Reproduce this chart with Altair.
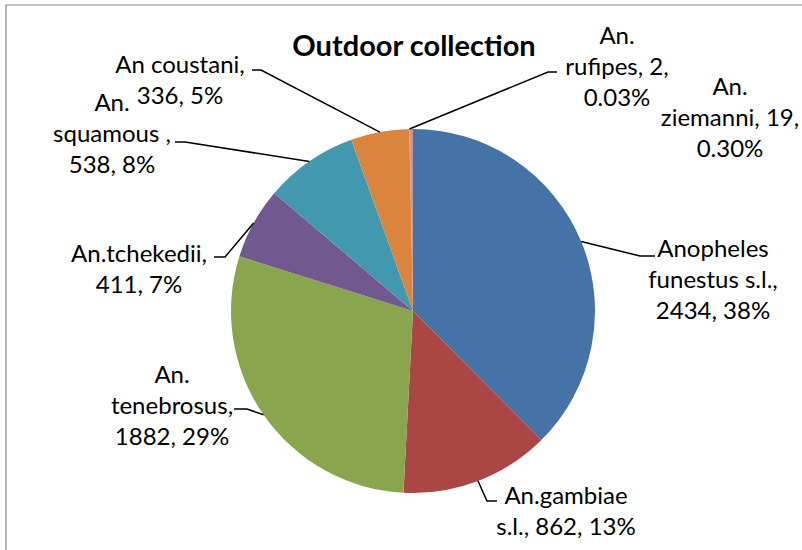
import math
import altair as alt
import pandas as pd

# ---------------- data ----------------
species = ["Anopheles funestus s.l.", "An.gambiae s.l.", "An. tenebrosus", "An.tchekedii",
           "An. squamous", "An coustani", "An. rufipes", "An. ziemanni"]
counts = [2434, 862, 1882, 411, 538, 336, 2, 19]
label_text = [
    "Anopheles\nfunestus s.l.,\n2434, 38%",
    "An.gambiae\ns.l., 862, 13%",
    "An.\ntenebrosus,\n1882, 29%",
    "An.tchekedii,\n411, 7%",
    "An.\nsquamous ,\n538, 8%",
    "An coustani,\n336, 5%",
    "An.\nrufipes, 2,\n0.03%",
    "An.\nziemanni, 19,\n0.30%",
]
colors = ["#4572A7", "#AA4643", "#89A54E", "#71588F", "#4198AF", "#DB843D", "#93A9CF", "#D19392"]

# ---------------- layout (annotation placement) ----------------
CX, CY, R = 413, 311, 182
# centre x and first-line y of each label block
label_xy = [(713, 250), (566, 497), (172, 376), (139, 255), (112, 104), (180, 66), (617, 37), (730, 88)]
leader_pts = [
    [(640, 256), (655, 256)],
    [(487, 501), (497, 501)],
    [(247, 409), (234, 409)],
    [(225, 257), (214, 257)],
    [(185, 142), (175, 142)],
    [(261, 70), (252, 70)],
    [(548, 72), (557, 72)],
    None,
]

FONT = "Lato"

pie_df = pd.DataFrame({"species": species, "count": counts, "idx": list(range(len(species)))})

# leader lines start on the pie edge at each slice's mid-angle
total = sum(counts)
rows = []
cum = 0
for i, c in enumerate(counts):
    mid = (cum + c / 2) / total * 2 * math.pi
    cum += c
    if leader_pts[i] is None:
        continue
    sx = CX + R * math.sin(mid)
    sy = CY - R * math.cos(mid)
    pts = [(sx, sy)] + leader_pts[i]
    for k, (px, py) in enumerate(pts):
        rows.append({"species": species[i], "k": k, "px": px, "py": py})
lead_df = pd.DataFrame(rows)

lab_df = pd.DataFrame({
    "species": species,
    "text": label_text,
    "px": [p[0] for p in label_xy],
    "py": [p[1] for p in label_xy],
})

pie = alt.Chart(pie_df).mark_arc(outerRadius=R).encode(
    theta=alt.Theta("count:Q", stack=True),
    color=alt.Color("species:N", scale=alt.Scale(domain=species, range=colors), legend=None),
    order=alt.Order("idx:Q"),
    x=alt.value(CX),
    y=alt.value(CY),
)

leaders = alt.Chart(lead_df).mark_line(color="black", strokeWidth=1.5).encode(
    x=alt.X("px:Q", scale=None, axis=None),
    y=alt.Y("py:Q", scale=None, axis=None),
    detail="species:N",
    order="k:Q",
)

labels = alt.Chart(lab_df).mark_text(
    font=FONT, fontSize=24, lineBreak="\n", lineHeight=31,
    align="center", baseline="middle", color="black",
).encode(
    x=alt.X("px:Q", scale=None, axis=None),
    y=alt.Y("py:Q", scale=None, axis=None),
    text="text:N",
)

title = alt.Chart(pd.DataFrame({"t": ["Outdoor collection"]})).mark_text(
    font=FONT, fontSize=29, fontWeight="bold", align="center", baseline="middle", color="black",
).encode(x=alt.value(414), y=alt.value(47), text="t:N")

border = alt.Chart(pd.DataFrame({"a": [0]})).mark_rect(
    fill=None, stroke="#868686", strokeWidth=1.2,
).encode(x=alt.value(6), y=alt.value(5), x2=alt.value(830), y2=alt.value(580))

chart = alt.layer(border, pie, leaders, labels, title).properties(
    width=802, height=550, autosize=alt.AutoSizeParams(type="none"), padding=0,
    background="white",
).configure_view(stroke=None)

chart.save("out.html", embed_options={"renderer": "svg", "actions": False})
